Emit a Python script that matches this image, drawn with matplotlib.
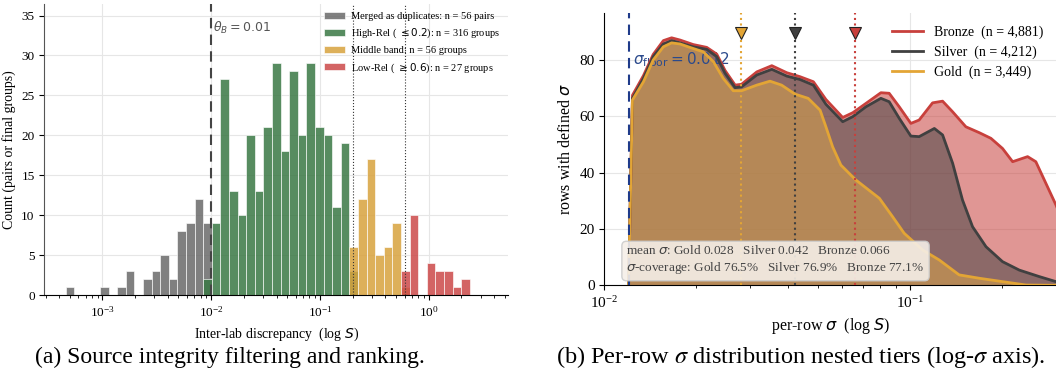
import numpy as np
import matplotlib
matplotlib.use('Agg')
import matplotlib.pyplot as plt

plt.rcParams['font.family'] = 'serif'
plt.rcParams['font.serif'] = ['Liberation Serif', 'DejaVu Serif']
plt.rcParams['mathtext.fontset'] = 'dejavusans'

# ---- panel (a): log-spaced histogram bins, counts read per bin index
LOG_LO, LOG_HI, N_BINS = -3.34, 0.3777, 47
DUP_BINS = [0, 4, 6, 7, 9, 10, 11, 12, 13, 14, 15, 16]
DUP_COUNTS = [1, 1, 1, 3, 2, 3, 5, 2, 8, 9, 12, 9]
HIGH_BINS = list(range(16, 34))
HIGH_COUNTS = [2, 9, 27, 13, 10, 20, 13, 21, 29, 18, 28, 20, 29, 21, 20, 11, 19, 3]
MID_BINS = [33, 34, 35, 36, 37, 38, 39]
MID_COUNTS = [6, 12, 17, 5, 6, 9, 1]
LOW_BINS = [39, 40, 42, 43, 44, 45, 46]
LOW_COUNTS = [3, 10, 4, 3, 3, 1, 2]
THETA_B = 0.01
HIGH_CUT, LOW_CUT = 0.2, 0.6

# ---- panel (b): per-row sigma curves
GOLD_SIGMA = [0.0120, 0.01236, 0.01343, 0.01445, 0.0156, 0.0166, 0.0177, 0.01905, 0.02109,
              0.02275, 0.02449, 0.02642, 0.02812, 0.03155, 0.03483, 0.03802, 0.04207, 0.04645,
              0.05082, 0.05309, 0.05585, 0.05943, 0.06653, 0.07943, 0.0877, 0.09572, 0.1102,
              0.1247, 0.1449, 0.1687, 0.2009, 0.2399, 0.31]
GOLD_ROWS = [0, 65.8, 72.3, 80.0, 84.7, 86.1, 85.7, 84.5, 82.9, 79.4, 73.5, 69.1, 69.1, 71.1,
             72.5, 71.1, 67.9, 66.4, 62.2, 56.3, 49.2, 42.7, 37.4, 30.9, 24.4, 18.5, 12.5, 9.0,
             3.7, 2.5, 1.3, 0.1, 0]
SILVER_SIGMA = [0.0120, 0.01236, 0.01343, 0.01445, 0.0156, 0.0166, 0.0177, 0.01954, 0.02163,
                0.02333, 0.02483, 0.02679, 0.02812, 0.03155, 0.03532, 0.03954, 0.04365, 0.04831,
                0.05309, 0.06026, 0.06501, 0.07178, 0.08035, 0.08551, 0.09226, 0.1007, 0.1072,
                0.1202, 0.1279, 0.138, 0.1486, 0.1603, 0.1774, 0.2009, 0.228, 0.2649, 0.3006]
SILVER_ROWS = [0, 66.4, 73.5, 81.2, 85.7, 86.9, 86.1, 84.7, 83.8, 81.2, 75.3, 70.2, 70.5, 74.7,
               76.7, 74.3, 73.1, 71.1, 64.3, 58.1, 59.9, 63.4, 66.4, 65.2, 59.3, 53.0, 52.8,
               55.7, 53.4, 43.3, 30.3, 20.8, 13.7, 8.4, 5.4, 3.1, 1.3]
BRONZE_SIGMA = [0.0120, 0.01236, 0.01343, 0.01445, 0.0156, 0.0166, 0.0177, 0.01954, 0.02163,
                0.02333, 0.02483, 0.02679, 0.02812, 0.03155, 0.03532, 0.03954, 0.04365, 0.04831,
                0.05309, 0.06026, 0.06501, 0.07178, 0.08035, 0.08551, 0.09226, 0.1007, 0.1072,
                0.1186, 0.1279, 0.138, 0.1524, 0.1687, 0.1841, 0.2009, 0.2168, 0.2427, 0.2582,
                0.3006, 0.31]
BRONZE_ROWS = [0, 67.5, 74.5, 82.0, 86.9, 87.9, 87.1, 85.5, 84.5, 82.1, 76.3, 71.1, 71.4, 75.8,
               78.0, 75.5, 74.1, 72.3, 66.0, 59.6, 61.3, 64.6, 68.4, 68.2, 63.4, 57.5, 58.7,
               64.8, 65.4, 61.6, 56.3, 54.2, 52.2, 48.6, 43.9, 45.7, 43.9, 28.5, 25.0]
TIERS = ['Bronze', 'Silver', 'Gold']
TIER_N = ['4,881', '4,212', '3,449']
TIER_MEAN = [0.066, 0.042, 0.028]
TIER_COVER = [77.1, 76.9, 76.5]
SIGMA_FLOOR = 0.012

fig = plt.figure(figsize=(10.56, 3.76), dpi=100)

# ================= (a)
ax = fig.add_axes([0.042, 0.2146, 0.439, 0.776])
edges = np.logspace(LOG_LO, LOG_HI, N_BINS + 1)
groups = [
    (DUP_BINS, DUP_COUNTS, '#6a6a6a', 'Merged as duplicates: n = 56 pairs'),
    (HIGH_BINS, HIGH_COUNTS, '#3a7844', r'High-Rel ( $\leq 0.2$): n = 316 groups'),
    (MID_BINS, MID_COUNTS, '#d8a23d', 'Middle band: n = 56 groups'),
    (LOW_BINS, LOW_COUNTS, '#cc4949', r'Low-Rel ( $\geq 0.6$): n = 27 groups'),
]
for bins, counts, c, lab in groups:
    b = np.array(bins)
    ax.bar(edges[b], counts, width=edges[b + 1] - edges[b], align='edge', color=c,
           alpha=0.85, edgecolor='white', linewidth=0.5, label=lab, zorder=2)
ax.set_xscale('log')
ax.set_xlim(2.92e-4, 5.36)
ax.set_ylim(0, 36.5)
ax.set_yticks(range(0, 36, 5))
ax.axvline(THETA_B, color='#444444', ls=(0, (5, 3)), lw=1.5, zorder=3)
ax.axvline(HIGH_CUT, color='#333333', ls=':', lw=0.8, zorder=3)
ax.axvline(LOW_CUT, color='#333333', ls=':', lw=0.8, zorder=3)
ax.text(THETA_B * 1.03, 33.5, r'$\theta_B = 0.01$', color='#555555', fontsize=9, va='center')
ax.grid(True, which='major', color='#e6e6e6', lw=0.8, zorder=0)
ax.set_axisbelow(True)
for s in ['top', 'right']:
    ax.spines[s].set_visible(False)
ax.spines['left'].set_color('#555555')
ax.tick_params(labelsize=9.5)
ax.set_xlabel(r'Inter-lab discrepancy  (log $S$)', fontsize=10)
ax.set_ylabel('Count (pairs or final groups)', fontsize=10)
ax.legend(loc='upper left', bbox_to_anchor=(0.585, 1.0), frameon=False, fontsize=7.5,
          handlelength=2.0, handleheight=0.7, labelspacing=0.55, borderpad=0.3,
          handletextpad=0.6)

# ================= (b)
bx = fig.add_axes([0.5723, 0.2412, 0.4277, 0.7234])
curves = [
    (BRONZE_SIGMA, BRONZE_ROWS, '#c8403c', '#c8403c', 0.55),
    (SILVER_SIGMA, SILVER_ROWS, '#404040', '#404040', 0.52),
    (GOLD_SIGMA, GOLD_ROWS, '#e3a535', '#d8a34a', 0.55),
]
for (xs, ys, lc, fc, a), name, n in zip(curves, TIERS, TIER_N):
    bx.fill_between(xs, 0, ys, color=fc, alpha=a, lw=0, zorder=2)
for (xs, ys, lc, fc, a), name, n in zip(curves, TIERS, TIER_N):
    bx.plot(xs, ys, color=lc, lw=2, label=f'{name}  (n = {n})', zorder=3)
bx.set_xscale('log')
bx.set_xlim(0.01, 0.3006)
bx.set_ylim(0, 96.6)
bx.set_yticks([0, 20, 40, 60, 80])
bx.axvline(SIGMA_FLOOR, color='#1f3b8a', ls=(0, (5, 3)), lw=1.5, zorder=4)
bx.text(0.01245, 80, r'$\sigma_{\rm floor} = 0.012$', color='#2b4a8c', fontsize=11,
        va='center', zorder=2.5)
for (xs, ys, lc, fc, a), m in zip(curves, TIER_MEAN):
    bx.axvline(m, color=lc, ls=':', lw=1.5, zorder=4)
    bx.plot([m], [0.927], marker='v', ms=8, mfc=lc, mec='#222222', mew=0.8,
            transform=bx.get_xaxis_transform(), clip_on=False, zorder=5)
bx.grid(True, which='major', color='#e6e6e6', lw=0.8, zorder=0)
bx.set_axisbelow(True)
for s in ['top', 'right']:
    bx.spines[s].set_visible(False)
bx.tick_params(labelsize=11)
bx.set_xlabel(r'per-row $\sigma$  (log $S$)', fontsize=11.5)
bx.set_ylabel(r'rows with defined $\sigma$', fontsize=11.5)
bx.legend(loc='upper right', bbox_to_anchor=(1.0, 1.0), frameon=False, fontsize=10,
          handlelength=2.2, labelspacing=0.45)
info = ('mean $\\sigma$: Gold {:.3f}   Silver {:.3f}   Bronze {:.3f}\n'
        '$\\sigma$-coverage: Gold {:.1f}%   Silver {:.1f}%   Bronze {:.1f}%').format(
    TIER_MEAN[2], TIER_MEAN[1], TIER_MEAN[0], TIER_COVER[2], TIER_COVER[1], TIER_COVER[0])
bx.text(0.049, 0.052, info, transform=bx.transAxes, fontsize=9.5, color='#444444',
        linespacing=1.3, zorder=6,
        bbox=dict(boxstyle='round,pad=0.35', fc='#f5efe8', ec='#cccccc', alpha=0.9))

fig.text(0.218, 0.05, '(a) Source integrity filtering and ranking.', ha='center',
         va='center', fontsize=17)
fig.text(0.758, 0.05, r'(b) Per-row $\sigma$ distribution nested tiers (log-$\sigma$ axis).',
         ha='center', va='center', fontsize=17.5, math_fontfamily='stix')

fig.savefig('out.png', dpi=100)
